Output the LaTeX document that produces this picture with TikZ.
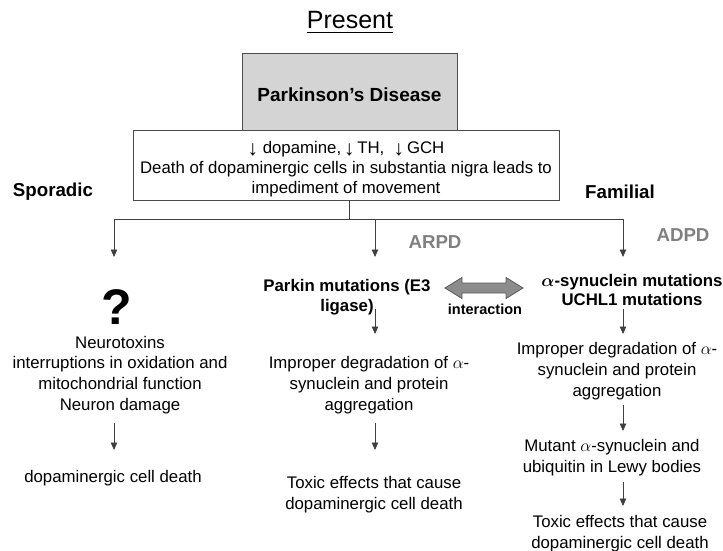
\documentclass[tikz,border=0pt]{standalone}
\usepackage{amsmath}
\usepackage{fontspec}
\setmainfont{Liberation Sans}
\usetikzlibrary{arrows.meta}
\tikzstyle{txt} = [align=center,inner sep=0pt,font=\fontsize{16.8}{20.7}\selectfont]
\tikzstyle{btxt} = [align=center,inner sep=0pt,font=\bfseries\fontsize{16.8}{19}\selectfont]
\tikzstyle{side} = [inner sep=0pt,font=\bfseries\fontsize{18.7}{20}\selectfont]
\tikzstyle{kind} = [side,text=black!50]
\tikzstyle{arr} = [draw=black!75,line width=0.8pt,-{Triangle[length=7.5pt,width=6.5pt]}]
\tikzstyle{frame} = [draw=black!70,line width=0.8pt,inner sep=0pt]
\newcommand{\dn}{\raisebox{-2.5pt}{\fontsize{21}{21}\selectfont ↓}}

\begin{document}
\begin{tikzpicture}[x=1pt,y=-1pt]
  \useasboundingbox (0,0) rectangle (723,551);
  \node[inner sep=0pt,font=\fontsize{25}{25}\selectfont] (title) at (350,23) {\underline{Present}};
  \node[frame,fill=black!17,minimum width=215pt,minimum height=77pt,text height=20pt,text depth=0pt,
    font=\bfseries\fontsize{19}{20}\selectfont] (pd) at (349.5,91.5) {Parkinson’s Disease};
  \node[frame,txt,fill=white,minimum width=426pt,minimum height=70pt,font=\fontsize{16.8}{20}\selectfont] (sympt) at (346,165)
    {\rule{0pt}{20pt}\dn\ dopamine,\,\dn\,TH,\ \ \dn\,GCH\\Death of dopaminergic cells in substantia nigra leads to\\impediment of movement};
  \node[side] (spor) at (53,192) {Sporadic};
  \node[side] (fam) at (620,192) {Familial};
  \node[kind] (arpd) at (435,242) {ARPD};
  \node[kind] (adpd) at (683,235) {ADPD};

  \node[inner sep=0pt,font=\bfseries\fontsize{50}{50}\selectfont] (quest) at (117,307) {?};
  \node[txt] (neuro) at (120,375) {Neurotoxins\\interruptions in oxidation and\\mitochondrial function\\Neuron damage};
  \node[txt] (sdeath) at (113,478) {dopaminergic cell death};

  \node[btxt,font=\bfseries\fontsize{16.8}{20}\selectfont] (parkin) at (347,297) {Parkin mutations (E3\\ligase)};
  \node[txt] (pimp) at (369,385) {Improper degradation of $\alpha$-\\synuclein and protein\\aggregation};
  \node[txt] (ptox) at (374,495) {Toxic effects that cause\\dopaminergic cell death};

  \node[btxt] (asyn) at (632,290) {$\boldsymbol{\alpha}$-synuclein mutations\\UCHL1 mutations};
  \node[txt] (fimp) at (617,371) {Improper degradation of $\alpha$-\\synuclein and protein\\aggregation};
  \node[txt] (lewy) at (612,457.5) {Mutant $\alpha$-synuclein and\\ubiquitin in Lewy bodies};
  \node[txt] (ftox) at (620,534) {Toxic effects that cause\\dopaminergic cell death};

  \coordinate (inter) at (484,288);
  \draw[draw=black!65,fill=black!45,line width=0.8pt] (inter) +(-39,0) -- +(-22,-10.5) -- +(-22,-5)
    -- +(22,-5) -- +(22,-10.5) -- +(39,0) -- +(22,10.5) -- +(22,5) -- +(-22,5) -- +(-22,10.5) -- cycle;
  \node[inner sep=0pt,font=\bfseries\fontsize{14.5}{15}\selectfont] (ilabel) at (485,309) {interaction};

  \coordinate (split) at (349,219);
  \coordinate (qtop) at (114,257);
  \coordinate (mtop) at (375,257);
  \coordinate (ftop) at (623,257);
  \draw[draw=black!75,line width=0.8pt] (split |- sympt.south) -- (split);
  \draw[arr] (split) -| (qtop);
  \draw[arr] (split) -| (ftop);
  \draw[arr] (split -| mtop) -- (mtop);

  \foreach \nm/\x/\ya/\yb in {s1/114/423/450, m1/375/309/334, m2/375/423/450,
      f1/623/309/334, f2/623/405/431, f3/623/482/506} {
    \coordinate (\nm a) at (\x,\ya);
    \coordinate (\nm b) at (\x,\yb);
    \draw[arr] (\nm a) -- (\nm b);
  }
\end{tikzpicture}
\end{document}
